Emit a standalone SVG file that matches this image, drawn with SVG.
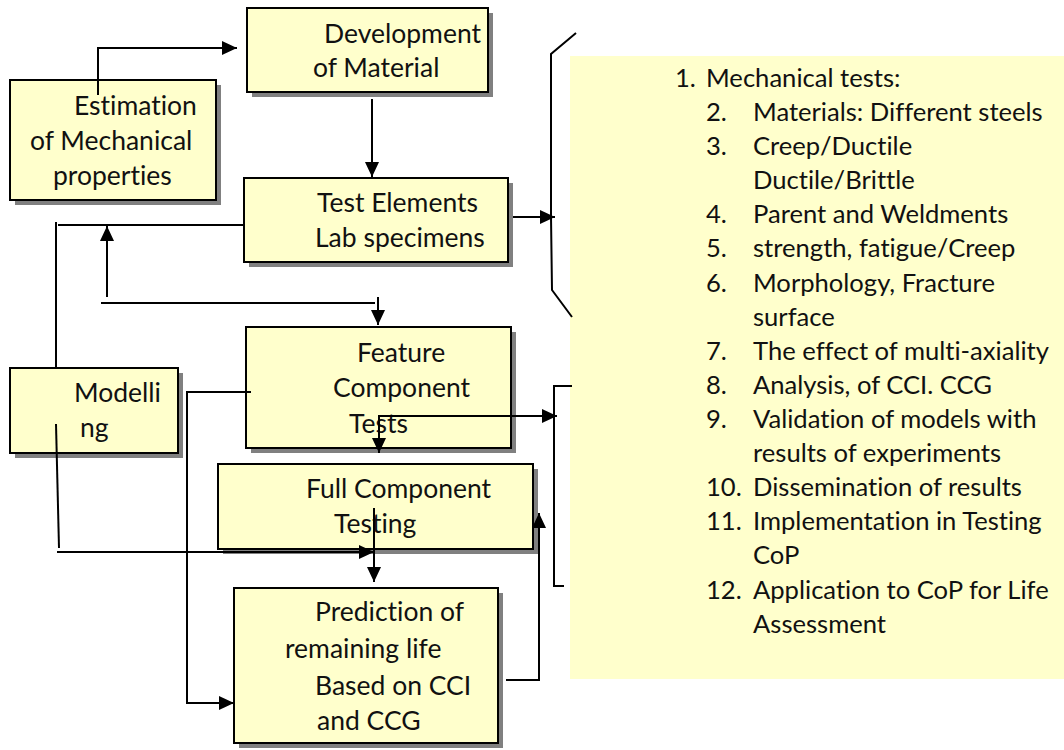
<svg xmlns="http://www.w3.org/2000/svg" width="1064" height="750" viewBox="0 0 1064 750">
  <defs>
    <marker id="arrow" markerUnits="userSpaceOnUse" markerWidth="16" markerHeight="14" refX="15" refY="7" orient="auto">
      <path d="M0,0 L15,7 L0,14 Z" fill="#000"/>
    </marker>
    <style>
      .box { fill: #FFFFCC; stroke: #000; stroke-width: 2; }
      .shadow { fill: #808080; }
      .lbl { font-family: Lato, "Liberation Sans", sans-serif; font-size: 26.5px; fill: #111; font-variant-ligatures: none; }
      .list { font-family: Lato, "Liberation Sans", sans-serif; font-size: 25.6px; fill: #111; font-variant-ligatures: none; }
      .wire { fill: none; stroke: #000; stroke-width: 2; }
      .arr { marker-end: url(#arrow); }
    </style>
  </defs>

  <rect width="1064" height="750" fill="#fff"/>

  <!-- Summary panel -->
  <g id="panel">
    <rect x="570" y="56" width="494" height="623" fill="#FFFFCC"/>
    <g class="list">
      <text x="675" y="87">1.</text>
      <text x="706" y="87">Mechanical tests:</text>
      <text x="706" y="121">2.</text><text x="753" y="121">Materials: Different steels</text>
      <text x="706" y="155">3.</text><text x="753" y="155">Creep/Ductile</text>
      <text x="753" y="189">Ductile/Brittle</text>
      <text x="706" y="223">4.</text><text x="753" y="223">Parent and Weldments</text>
      <text x="706" y="257">5.</text><text x="753" y="257">strength, fatigue/Creep</text>
      <text x="706" y="292">6.</text><text x="753" y="292">Morphology, Fracture</text>
      <text x="753" y="326">surface</text>
      <text x="706" y="360">7.</text><text x="753" y="360">The effect of multi-axiality</text>
      <text x="706" y="394">8.</text><text x="753" y="394">Analysis, of CCI. CCG</text>
      <text x="706" y="428">9.</text><text x="753" y="428">Validation of models with</text>
      <text x="753" y="462">results of experiments</text>
      <text x="706" y="496">10.</text><text x="753" y="496">Dissemination of results</text>
      <text x="706" y="530">11.</text><text x="753" y="530">Implementation in Testing</text>
      <text x="753" y="564">CoP</text>
      <text x="706" y="599">12.</text><text x="753" y="599">Application to CoP for Life</text>
      <text x="753" y="633">Assessment</text>
    </g>
  </g>

  <!-- Process boxes -->
  <g id="development">
    <rect class="shadow" x="252" y="13" width="241" height="84"/>
    <rect class="box" x="247" y="8" width="241" height="84"/>
    <text class="lbl" x="324" y="43">Development</text>
    <text class="lbl" x="313" y="77">of Material</text>
  </g>

  <g id="estimation">
    <rect class="shadow" x="15" y="85" width="206" height="120"/>
    <rect class="box" x="10" y="80" width="206" height="120"/>
    <text class="lbl" x="74" y="115">Estimation</text>
    <text class="lbl" x="30" y="150">of Mechanical</text>
    <text class="lbl" x="53" y="185">properties</text>
  </g>

  <g id="test-elements">
    <rect class="shadow" x="249" y="183" width="264" height="84"/>
    <rect class="box" x="244" y="178" width="264" height="84"/>
    <text class="lbl" x="317" y="212">Test Elements</text>
    <text class="lbl" x="315" y="247">Lab specimens</text>
  </g>

  <g id="modelling">
    <rect class="shadow" x="15" y="373" width="168" height="85"/>
    <rect class="box" x="10" y="368" width="168" height="85"/>
    <text class="lbl" x="74" y="402">Modelli</text>
    <text class="lbl" x="80" y="437">ng</text>
  </g>

  <g id="feature">
    <rect class="shadow" x="251" y="332" width="265" height="121"/>
    <rect class="box" x="246" y="327" width="265" height="121"/>
    <text class="lbl" x="357" y="362">Feature</text>
    <text class="lbl" x="333" y="397">Component</text>
    <text class="lbl" x="349" y="433">Tests</text>
  </g>

  <g id="full-component">
    <rect class="shadow" x="223" y="469" width="315" height="85"/>
    <rect class="box" x="218" y="464" width="315" height="85"/>
    <text class="lbl" x="306" y="498">Full Component</text>
    <text class="lbl" x="334" y="533">Testing</text>
  </g>

  <g id="prediction">
    <rect class="shadow" x="239" y="593" width="264" height="155"/>
    <rect class="box" x="234" y="588" width="264" height="155"/>
    <text class="lbl" x="315" y="621">Prediction of</text>
    <text class="lbl" x="285" y="658">remaining life</text>
    <text class="lbl" x="315" y="695">Based on CCI</text>
    <text class="lbl" x="317" y="730">and CCG</text>
  </g>

  <!-- Connectors -->
  <g id="connectors" class="wire">
    <!-- estimation to development -->
    <path class="arr" d="M98,95 V48 H237"/>
    <!-- development to test elements -->
    <path class="arr" d="M372,99 V177"/>
    <!-- test elements to upper bracket -->
    <path class="arr" d="M513,217 H555"/>
    <!-- upper bracket -->
    <path d="M576,33 L551,54 V217 L552,290 L572,317"/>
    <!-- modelling up to test elements -->
    <path d="M56,368 V222"/>
    <path d="M58,225 H244"/>
    <path class="arr" d="M107,297 V226"/>
    <path d="M101,303 H375"/>
    <path class="arr" d="M378,297 V325"/>
    <!-- feature to prediction -->
    <path class="arr" d="M251,392 H187 V703 H234"/>
    <!-- modelling to full component -->
    <path d="M56,424 L59,548"/>
    <path class="arr" d="M57,552 H374"/>
    <!-- feature to full component and lower bracket -->
    <path class="arr" d="M379,417 V453"/>
    <path class="arr" d="M378,416 H557"/>
    <!-- lower bracket -->
    <path d="M572,386 H554 V586 H564"/>
    <!-- full component to prediction -->
    <path class="arr" d="M374,508 V582"/>
    <!-- prediction back to full component -->
    <path class="arr" d="M506,680 H539 V513"/>
  </g>
</svg>
